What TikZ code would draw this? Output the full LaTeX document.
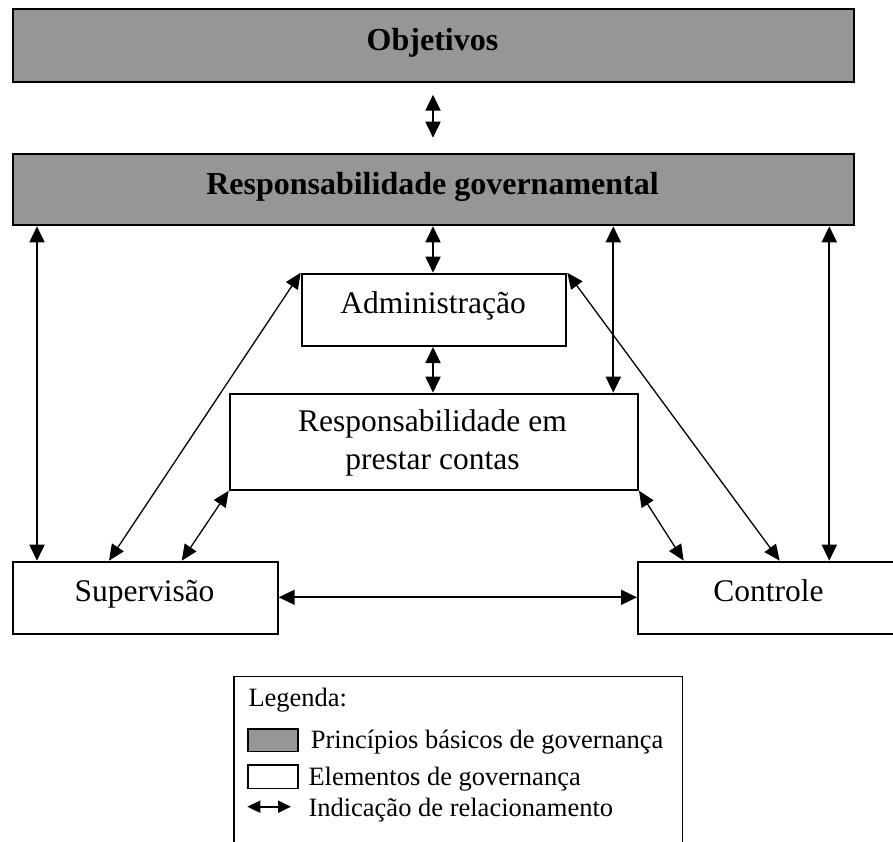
\documentclass[tikz,border=0pt]{standalone}
\usepackage{fontspec}
\setmainfont{Liberation Serif}
\usetikzlibrary{arrows.meta,calc}
\definecolor{boxgray}{RGB}{150,150,150}
\begin{document}
\begin{tikzpicture}[x=1pt,y=-1pt,
  box/.style={draw, line width=2pt, inner sep=0pt, anchor=north west, fill=white},
  graybox/.style={box, fill=boxgray},
  rel/.style={line width=1.8pt, {Triangle[length=16pt,width=15pt]}-{Triangle[length=16pt,width=15pt]}},
  diag/.style={line width=1.3pt, {Triangle[length=16pt,width=14pt]}-{Triangle[length=16pt,width=14pt]}},
  legarrow/.style={line width=2pt, {Triangle[length=13pt,width=12pt]}-{Triangle[length=13pt,width=12pt]}},
  lbl/.style={font=\fontsize{31.5}{38}\selectfont, anchor=base, inner sep=0pt},
  blbl/.style={font=\fontsize{32}{38}\selectfont\bfseries, anchor=base, inner sep=0pt},
  leg/.style={font=\fontsize{26.5}{32}\selectfont, anchor=base west, inner sep=0pt}]
\useasboundingbox (0,0) rectangle (893,841);

% boxes
\node[graybox, minimum width=840.2pt, minimum height=72.7pt] (obj) at (12.3,8.3) {};
\node[graybox, minimum width=840.2pt, minimum height=71.6pt] (gov) at (12.3,152.7) {};
\node[box, minimum width=264.6pt, minimum height=72.3pt] (adm) at (300.7,272.7) {};
\node[box, minimum width=408.3pt, minimum height=96pt] (rpc) at (228.7,392.7) {};
\node[box, minimum width=264.4pt, minimum height=72pt] (sup) at (12.3,560.7) {};
\node[box, minimum width=263pt, minimum height=72pt] (ctl) at (637,560.7) {};
\node[box, line width=1.5pt, minimum width=448.7pt, minimum height=190pt] (legend) at (233,675.7) {};

% texts
\node[blbl] (tobj) at (432.5,50) {Objetivos};
\node[blbl] (tgov) at (432.5,194.3) {Responsabilidade governamental};
\node[lbl] (tadm) at (433,313.3) {Administração};
\node[lbl] (trpc1) at (432.5,431.7) {Responsabilidade em};
\node[lbl] (trpc2) at (432.5,469) {prestar contas};
\node[lbl] (tsup) at (144.5,601.7) {Supervisão};
\node[lbl] (tctl) at (768.5,601) {Controle};

% helper x positions
\coordinate (xc) at (433,0);
\coordinate (xl) at (37,0);
\coordinate (xm) at (613.3,0);
\coordinate (xr) at (829.3,0);
\coordinate (xsa) at (109,0);
\coordinate (xsr) at (181.7,0);
\coordinate (xca) at (779.7,0);
\coordinate (xcr) at (683.7,0);
\coordinate (yh) at (0,597.3);

% connectors
\draw[rel] ($(obj.south -| xc)+(0,11.7)$) -- ($(gov.north -| xc)+(0,-15)$);
\draw[rel] (gov.south -| xc) -- (adm.north -| xc);
\draw[rel] (adm.south -| xc) -- (rpc.north -| xc);
\draw[rel] (gov.south -| xl) -- (sup.north -| xl);
\draw[rel] (gov.south -| xm) -- (rpc.north -| xm);
\draw[rel] (gov.south -| xr) -- (ctl.north -| xr);
\draw[diag] (sup.north -| xsa) -- (adm.north west);
\draw[diag] (sup.north -| xsr) -- (rpc.south west);
\draw[diag] (ctl.north -| xca) -- (adm.north east);
\draw[diag] (ctl.north -| xcr) -- (rpc.south east);
\draw[rel] (sup.east |- yh) -- (ctl.west |- yh);

% legend
\node[leg] (lt) at (248.3,706.5) {Legenda:};
\node[box, fill=boxgray, line width=1.5pt, minimum width=50pt, minimum height=22.4pt] (sw1) at (247.3,728.3) {};
\node[leg] (l1) at (310.7,748.3) {Princípios básicos de governança};
\node[box, line width=1.5pt, minimum width=50pt, minimum height=23.4pt] (sw2) at (247.3,764.3) {};
\node[leg] (l2) at (308.3,785) {Elementos de governança};
\coordinate (la1) at (247.3,806.7);
\coordinate (la2) at (291,806.7);
\draw[legarrow] (la1) -- (la2);
\node[leg] (l3) at (308.3,816.7) {Indicação de relacionamento};
\end{tikzpicture}
\end{document}
